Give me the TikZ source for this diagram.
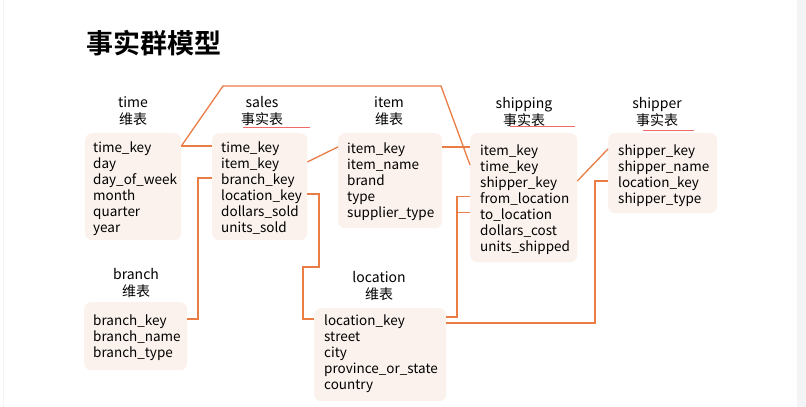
\documentclass[tikz,border=0pt]{standalone}
\usepackage{fontspec}
\setmainfont{Noto Sans CJK SC}[BoldFont=* Bold]
\definecolor{boxfill}{HTML}{FBF2ED}
\definecolor{conn}{HTML}{EA7D45}
\definecolor{ul}{HTML}{F06A6A}
\definecolor{edge}{HTML}{F3F4F6}
\newcommand\mkfields[4]{%
  \foreach \t [count=\i] in {#4}{%
    \node[fld] (#1-\i) at (#2,{#3+16*(\i-1)}) {\t};}}
\begin{document}
\begin{tikzpicture}[x=1pt,y=-1pt,
  tbl/.style={fill=boxfill,rounded corners=7pt,inner sep=0pt,anchor=north west},
  fld/.style={anchor=mid west,inner sep=0pt,font=\fontsize{13.5}{16}\selectfont},
  ttl/.style={align=center,inner sep=0pt,font=\fontsize{14}{17}\selectfont},
  conn/.style={draw=conn,line width=1.3pt,line join=miter},
  uline/.style={fill=ul}]
\useasboundingbox (0,0) rectangle (806,407);
\fill[white] (0,0) rectangle (806,407);
\fill[edge] (797,0) rectangle (806,407);
\draw[edge,line width=1pt] (3,0) -- (3,407);
% title
\node[inner sep=0pt,font=\fontsize{27}{30}\selectfont\bfseries] (title) at (154,43) {事实群模型};
% boxes
\node[tbl,minimum width=96pt,minimum height=107pt] (timebox) at (85,133) {};
\node[tbl,minimum width=95pt,minimum height=107pt] (salesbox) at (212,133) {};
\node[tbl,minimum width=104pt,minimum height=95pt] (itembox) at (338,133) {};
\node[tbl,minimum width=107pt,minimum height=129pt] (shipbox) at (470,133) {};
\node[tbl,minimum width=109pt,minimum height=80pt] (shipperbox) at (608,133) {};
\node[tbl,minimum width=103pt,minimum height=68pt] (branchbox) at (84,302) {};
\node[tbl,minimum width=132pt,minimum height=93pt] (locbox) at (314,308) {};
% titles
\node[ttl] (ttime) at (133,111) {time\\维表};
\node[ttl] (tsales) at (262,111) {sales\\事实表};
\node[ttl] (titem) at (389,111) {item\\维表};
\node[ttl] (tship) at (524,112) {shipping\\事实表};
\node[ttl] (tshipper) at (657,112) {shipper\\事实表};
\node[ttl] (tbranch) at (136,283) {branch\\维表};
\node[ttl] (tloc) at (379,286) {location\\维表};
\path[uline] (243,127) rectangle (310,128.2);
\path[uline] (510,126) rectangle (575,127.2);
\path[uline] (643,130) rectangle (694,131.2);
% fields
\mkfields{time}{93}{150}{time\_key,day,day\_of\_week,month,quarter,year}
\mkfields{sales}{221}{150}{time\_key,item\_key,branch\_key,location\_key,dollars\_sold,units\_sold}
\mkfields{item}{347}{151}{item\_key,item\_name,brand,type,supplier\_type}
\mkfields{ship}{480}{153}{item\_key,time\_key,shipper\_key,from\_location,to\_location,dollars\_cost,units\_shipped}
\mkfields{shipper}{618}{153}{shipper\_key,shipper\_name,location\_key,shipper\_type}
\mkfields{branch}{93}{323}{branch\_key,branch\_name,branch\_type}
\mkfields{loc}{324}{323}{location\_key,street,city,province\_or\_state,country}
% connector helper coordinates
\coordinate (ta) at (223,86);
\coordinate (tb) at (441,86);
\coordinate (bx) at (198,0);
\coordinate (lx1) at (319,267);
\coordinate (lx2) at (303,267);
\coordinate (sx) at (457,0);
\coordinate (shx) at (595,323);
% connectors
\draw[conn] ([yshift=3pt]timebox.east |- time-1) -- ([yshift=3pt]salesbox.west |- time-1);
\draw[conn] ([yshift=3pt]timebox.east |- time-1) -- (ta) -- (tb) -- ([yshift=3pt]shipbox.west |- ship-2);
\draw[conn] ([yshift=3pt]salesbox.east |- sales-2) -- ([yshift=3pt]itembox.west |- item-1);
\draw[conn] ([yshift=3pt]salesbox.west |- sales-3) -- ([yshift=3pt]bx |- sales-3) -- ([yshift=3pt]bx |- branch-1) -- ([yshift=3pt]branchbox.east |- branch-1);
\draw[conn] ([yshift=3pt]salesbox.east |- sales-4) -| (lx1) -- (lx2) |- ([yshift=3pt]locbox.west |- loc-1);
\draw[conn] ([yshift=3pt]itembox.east |- item-1) -- ([yshift=3pt]shipbox.west |- item-1);
\draw[conn] ([yshift=3pt]shipbox.west |- ship-4) -- ([yshift=3pt]sx |- ship-4) -- ([yshift=5pt]sx |- loc-1) -- ([yshift=5pt]locbox.east |- loc-1);
\draw[conn] ([yshift=3pt]shipbox.west |- ship-5) -- ([yshift=3pt]sx |- ship-5);
\draw[conn] (locbox.east |- shx) -- (shx) |- ([yshift=3pt]shipperbox.west |- shipper-3);
\draw[conn] ([yshift=3pt]shipbox.east |- ship-3) -- ([yshift=3pt]shipperbox.west |- shipper-1);
\end{tikzpicture}
\end{document}
